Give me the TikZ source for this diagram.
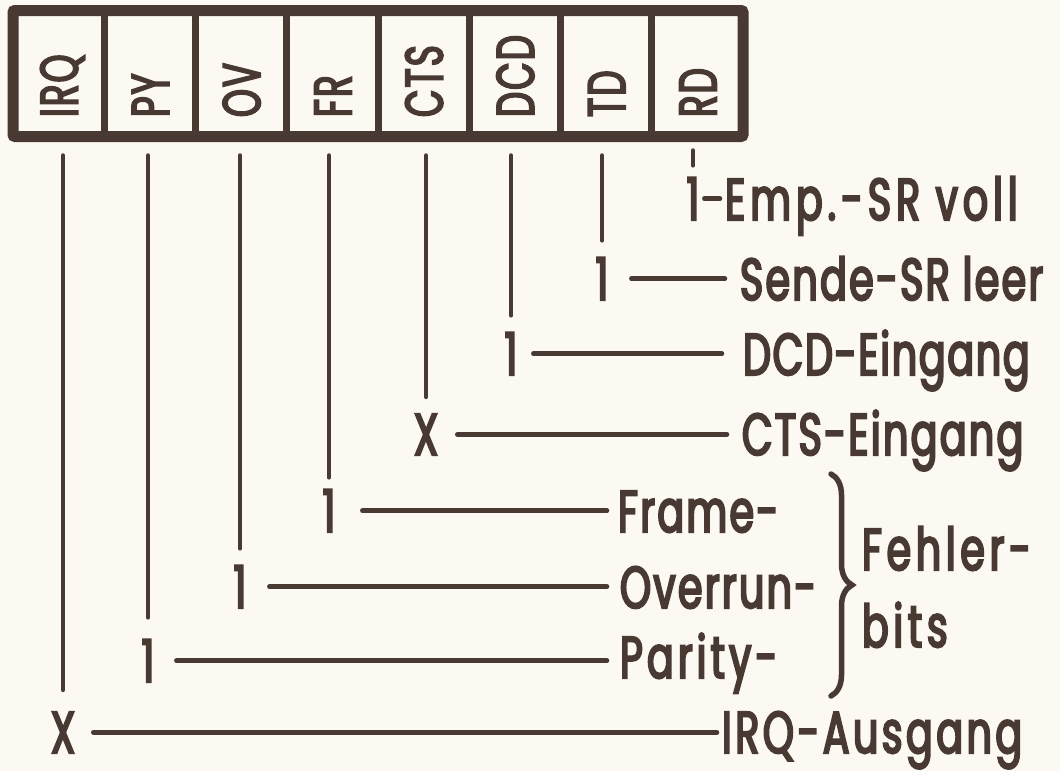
\documentclass[tikz,border=0pt]{standalone}
\usepackage{fontspec}
\setmainfont{Poppins}[FakeStretch=0.67, FakeBold=3.5, LetterSpace=4]
\usetikzlibrary{decorations.pathreplacing}
\definecolor{ink}{RGB}{72,58,50}
\definecolor{paper}{RGB}{251,249,242}
\begin{document}
\begin{tikzpicture}[x=1pt,y=-1pt,
  every node/.style={inner sep=0pt, outer sep=0pt, text=ink},
  txt/.style={font=\fontsize{59}{59}\selectfont, anchor=base west},
  val/.style={font=\fontsize{59}{59}\selectfont, anchor=base},
  wide/.style={font=\fontsize{59}{59}\selectfont\addfontfeature{LetterSpace=#1}},
  cell/.style={draw=ink, line width=7pt, minimum width=91.25pt, minimum height=126pt},
  reg/.style={font=\fontsize{53}{53}\selectfont, rotate=90, anchor=base west},
  wire/.style={draw=ink, line width=4.5pt, line cap=round},
  vwire/.style={wire, shorten <=19pt, shorten >=17pt},
  brc/.style={draw=ink, line width=5.5pt, line cap=round, decorate, decoration={brace, amplitude=21pt}}
]
\fill[paper] (0,0) rectangle (1060,771);
\useasboundingbox (0,0) rectangle (1060,771);
% register
\foreach \n [count=\i] in {IRQ,PY,OV,FR,CTS,DCD,TD,RD} {
  \node[cell] (c\i) at ({13+91.25*(\i-0.5)}, 73.5) {};
  \node[reg] (l\i) at ({13+91.25*(\i-0.5)+19}, 117) {\n};
}
\draw[ink, line width=11pt, rounded corners=2pt] (c1.north west) rectangle (c8.south east);
% values
\node[val] (v8) at (693,220) {1};
\node[val] (v7) at (602,300) {1};
\node[val] (v6) at (511,375) {1};
\node[val] (v5) at (426,455) {X};
\node[val] (v4) at (329,532) {1};
\node[val] (v3) at (240,608) {1};
\node[val] (v2) at (148,682) {1};
\node[val] (v1) at (63,753) {X};
% labels
\node[txt, wide=8.5] (t8) at (725,220) {Emp.-SR voll};
\node[txt] (t7) at (740,300) {Sende-SR leer};
\node[txt, wide=3] (t6) at (743,375) {DCD-Eingang};
\node[txt] (t5) at (742,455) {CTS-Eingang};
\node[txt] (t4) at (618,532) {Frame-};
\node[txt] (t3) at (620,608) {Overrun-};
\node[txt, wide=7] (t2) at (620,678) {Parity-};
\node[txt, wide=6] (t1) at (722,753) {IRQ-Ausgang};
\node[txt, wide=8] (f1) at (862,570) {Fehler-};
\node[txt, wide=8] (f2) at (862,647) {bits};
% vertical wires
\draw[wire, shorten <=14pt, shorten >=12pt] (v8.north |- c8.south) -- (v8.north);
\draw[vwire] (v7.north |- c7.south) -- (v7.north);
\draw[vwire] (v6.north |- c6.south) -- (v6.north);
\draw[vwire] (v5.north |- c5.south) -- (v5.north);
\draw[vwire, shorten >=12pt] (v4.north |- c4.south) -- (v4.north);
\draw[vwire] (v3.north |- c3.south) -- (v3.north);
\draw[vwire, shorten >=22pt] (v2.north |- c2.south) -- (v2.north);
\draw[vwire, shorten >=22pt] (v1.north |- c1.south) -- (v1.north);
% horizontal wires
\draw[wire, shorten <=5pt, shorten >=5pt] (v8.east) -- (v8.east -| t8.west);
\draw[wire, shorten <=23pt, shorten >=15pt] (v7.east) -- (v7.east -| t7.west);
\draw[wire, shorten <=16pt, shorten >=21pt] (v6.east) -- (v6.east -| t6.west);
\draw[wire, shorten <=19pt, shorten >=15pt] (v5.east) -- (v5.east -| t5.west);
\draw[wire, shorten <=27pt, shorten >=11pt] (v4.east) -- (v4.east -| t4.west);
\draw[wire, shorten <=23pt, shorten >=13pt] (v3.east) -- (v3.east -| t3.west);
\draw[wire, shorten <=22pt, shorten >=13pt] (v2.east) -- (v2.east -| t2.west);
\draw[wire, shorten <=18pt, shorten >=5pt] (v1.east) -- (v1.east -| t1.west);
% brace
\coordinate (b1) at (831,474);
\coordinate (b2) at (831,696);
\draw[brc] (b1) -- (b2);
\end{tikzpicture}
\end{document}
